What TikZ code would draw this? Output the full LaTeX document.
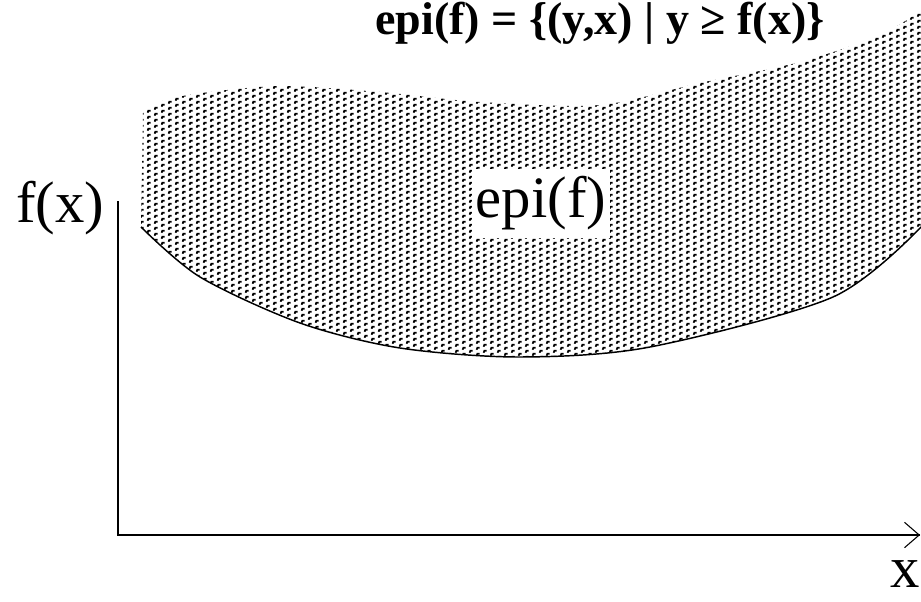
\documentclass[tikz,border=0pt]{standalone}
\usepackage{fontspec}
\setmainfont{Liberation Serif}
\usetikzlibrary{patterns.meta,arrows.meta}
\tikzdeclarepattern{
  name=epimarks,
  type=uncolored,
  bounding box={(-1pt,-1pt) and (12pt,6pt)},
  tile size={(10.5pt,4.5pt)},
  code={
    \draw[line width=1.3pt] (0.5pt,0.2pt) -- (1.0pt,1.7pt) -- (2.8pt,1.7pt);
    \draw[line width=1.3pt] (5.75pt,2.45pt) -- (6.25pt,3.95pt) -- (8.05pt,3.95pt);
  }
}
\tikzset{
  axisline/.style={line width=1.4pt, line cap=rect},
  biglabel/.style={font=\fontsize{44}{50}\selectfont, inner sep=0pt},
  titlelabel/.style={font=\fontsize{34.5}{40}\selectfont\bfseries, inner sep=0pt},
  region/.style={pattern=epimarks, pattern color=black},
  rim/.style={line width=1.1pt}
}
\begin{document}
\begin{tikzpicture}[x=0.75pt,y=-0.75pt]
\useasboundingbox (0,0) rectangle (921,602);
\clip (0,0) rectangle (921,602);
\fill[white] (0,0) rectangle (921,602);
% region
\fill[region] plot[smooth] coordinates {(143,113) (165,100) (210,92) (283,86) (380,92) (480,102) (600,105) (700,83) (800,62) (880,35) (925,8)}
  -- (925,225) -- plot[smooth] coordinates {(921,227) (833,297) (650,347) (520,357) (400,348) (300,323) (200,277) (141,227)} -- cycle;
\draw[rim] plot[smooth] coordinates {(921,227) (833,297) (650,347) (520,357) (400,348) (300,323) (200,277) (141,227)};
% axes
\coordinate (ytop) at (118,202);
\coordinate (origin) at (118,535);
\coordinate (xend) at (920,535);
\draw[axisline] (ytop) -- (origin);
\draw[axisline, -{Straight Barb[length=11pt,width=19pt,line width=0.8pt]}] (origin) -- (xend);
% labels
\node[biglabel, anchor=base] (fx) at (60,223) {f(x)};
\node[biglabel, anchor=base] (xl) at (905,587) {x};
\node[biglabel, anchor=base, fill=white, inner xsep=3pt, inner ysep=6pt] (epi) at (541,218) {epi(f)};
\node[titlelabel, anchor=base] (title) at (600,35) {epi(f) = \{(y,x) | y ≥ f(x)\}};
\end{tikzpicture}
\end{document}
